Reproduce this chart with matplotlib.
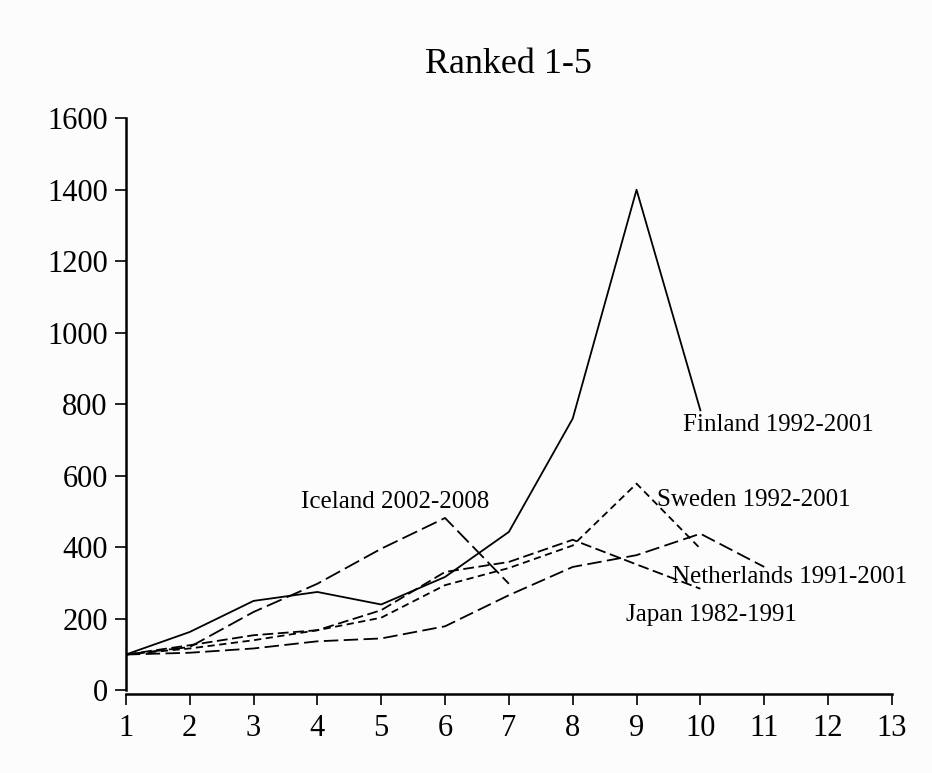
import numpy as np
import matplotlib
matplotlib.use("Agg")
import matplotlib.pyplot as plt

# index values, year 1 of each crisis = 100
finland = [100, 163, 250, 275, 240, 317, 443, 760, 1400, 783]
iceland = [100, 121, 219, 298, 396, 482, 298]
sweden = [100, 117, 140, 168, 203, 294, 342, 405, 578, 396]
japan = [100, 126, 154, 168, 224, 331, 359, 421, 352, 284]
netherlands = [100, 105, 117, 137, 145, 179, 266, 345, 378, 438, 345]

xticks = list(range(1, 14))
yticks = list(range(0, 1601, 200))

plt.rcParams['font.family'] = ['Liberation Serif', 'DejaVu Serif']

fig = plt.figure(figsize=(9.32, 7.73), dpi=100, facecolor='#fcfcfc')
ax = fig.add_axes([0.135, 0.107, 0.822, 0.74])
ax.set_facecolor('#fcfcfc')

def plot_series(vals, dashes):
    x = np.arange(1, len(vals) + 1)
    line, = ax.plot(x, vals, color='black', lw=1.3)
    if dashes is not None:
        line.set_dashes(dashes)

plot_series(finland, None)
plot_series(iceland, (9, 3))
plot_series(sweden, (4, 2.5))
plot_series(japan, (6, 2.5))
plot_series(netherlands, (8, 3))

# labels placed next to the lines
lab_kw = dict(fontsize=18, ha='center', va='center')
ax.text(5.22, 526, 'Iceland 2002-2008', **lab_kw)
ax.text(11.22, 741, 'Finland 1992-2001', **lab_kw)
ax.text(10.84, 531, 'Sweden 1992-2001', **lab_kw)
ax.text(11.39, 316, 'Netherlands 1991-2001', **lab_kw)
ax.text(10.18, 210, 'Japan 1982-1991', **lab_kw)

ax.set_xlim(1, 13)
ax.set_ylim(0, 1600)
ax.set_xticks(xticks)
ax.set_yticks(yticks)
ax.tick_params(labelsize=22, length=8, width=1.2)
ax.tick_params(axis='y', pad=5)
ax.tick_params(axis='x', pad=6)

for s in ['top', 'right']:
    ax.spines[s].set_visible(False)
ax.spines['left'].set_linewidth(1.8)
ax.spines['bottom'].set_linewidth(1.8)
ax.spines['bottom'].set_position(('outward', 3))

fig.text(0.546, 0.917, 'Ranked 1-5', fontsize=26, ha='center', va='center')

fig.savefig('out.png', dpi=100, facecolor=fig.get_facecolor())
